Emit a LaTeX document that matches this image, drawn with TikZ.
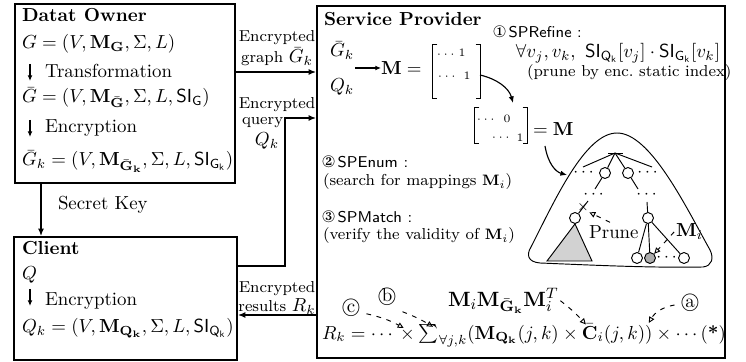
\documentclass[tikz,border=0pt]{standalone}
\usepackage{amsmath}
\usepackage{pifont}
\usetikzlibrary{arrows.meta,fit,calc}
\newcommand{\smf}{\fontsize{8.4}{10}\selectfont}
\newcommand{\hdf}{\fontsize{8.3}{10}\selectfont}
\newcommand{\mth}{\fontsize{10.2}{12}\selectfont}
\newcommand{\fmf}{\fontsize{9.8}{12}\selectfont}
\newcommand{\tnf}{\fontsize{6}{7}\selectfont}
\newcommand{\nmath}[1]{{\fontsize{10}{12}\selectfont$#1$}}
\newcommand{\cnum}[1]{{\fontsize{8.8}{10}\selectfont\ding{#1}}}
\tikzset{
  box/.style={draw, line width=0.9pt, inner sep=0pt},
  tx/.style={anchor=base west, inner sep=0pt, outer sep=0pt},
  lb/.style={anchor=base, inner sep=0pt, outer sep=0pt, font=\smf},
  ent/.style={inner sep=0pt, font=\tnf},
  dt/.style={inner sep=0pt, font=\small},
  arr/.style={line width=0.9pt, -{Latex[length=4pt,width=3.2pt]}},
  sarr/.style={line width=0.6pt, -{Latex[length=3pt,width=2.6pt]}},
  carr/.style={line width=0.6pt, -{Latex[length=3.5pt,width=2.8pt]}},
  darr/.style={line width=0.5pt, dash pattern=on 2.5pt off 3pt, -{Triangle[open,length=3.2pt,width=3pt]}},
  tn/.style={circle, draw, line width=0.5pt, minimum size=5.8pt, inner sep=0pt},
  tl/.style={line width=0.5pt},
  brk/.style={line width=0.6pt},
}
\begin{document}
\begin{tikzpicture}[x=0.53pt,y=-0.53pt]
\useasboundingbox (0,0) rectangle (746,362);
% boxes
\node[box, fit={(15,4) (235,183)}] (owner) {};
\node[box, fit={(14,237) (237,360)}] (client) {};
\node[box, fit={(317,6) (725,358)}] (sp) {};
% owner text
\node[tx, font=\bfseries] (ownt) at (22,22) {Datat Owner};
\node[tx, font=\mth] (g0) at (22,49) {$G=(V,\mathbf{M}_{\mathbf{G}},\Sigma,L)$};
\node[tx] (tr) at (45,78) {Transformation};
\node[tx, font=\mth] (g1) at (22,103) {$\bar{G}=(V,\mathbf{M}_{\bar{\mathbf{G}}},\Sigma,L,\mathsf{SI}_{\mathsf{G}})$};
\node[tx] (en1) at (45,133) {Encryption};
\node[tx, font=\mth] (g2) at (22,166) {$\bar{G}_k=(V,\mathbf{M}_{\bar{\mathbf{G}}_{\mathbf{k}}},\Sigma,L,\mathsf{SI}_{\mathsf{G}_{\mathsf{k}}})$};
\draw[sarr] (30,64) -- (30,81);
\draw[sarr] (30,120) -- (30,137);
% client text
\node[tx, font=\bfseries] (clt) at (22,255) {Client};
\node[tx, font=\mth] (q0) at (22,280) {$Q$};
\node[tx] (en2) at (45,305) {Encryption};
\node[tx, font=\mth] (q1) at (22,333) {$Q_k=(V,\mathbf{M}_{\mathbf{Q}_{\mathbf{k}}},\Sigma,L,\mathsf{SI}_{\mathsf{Q}_{\mathsf{k}}})$};
\draw[sarr] (30,289) -- (30,306);
% secret key
\coordinate (skx) at (41,0);
\draw[arr] (owner.south -| skx) -- (client.north -| skx);
\node[tx] (sk) at (58,210) {Secret Key};
% connectors between boxes
\coordinate (gy) at (0,72);
\coordinate (qy) at (0,118);
\coordinate (cy) at (0,266);
\coordinate (qx) at (285,0);
\coordinate (ry) at (0,315);
\draw[arr] (owner.east |- gy) -- (sp.west |- gy);
\draw[arr] (client.east |- cy) -| (qx |- qy) -- (sp.west |- qy);
\draw[arr] (sp.west |- ry) -- (client.east |- ry);
\node[lb] (l1a) at (277,42) {Encrypted};
\node[lb] (l1b) at (277,63) {graph \nmath{\bar{G}_k}};
\node[lb] (l2a) at (277,109) {Encrypted};
\node[lb, anchor=base west] (l2b) at (242,125) {query};
\node[lb] (l2c) at (267,146) {\nmath{Q_k}};
\node[lb] (l3a) at (277,293) {Encrypted};
\node[lb] (l3b) at (277,312) {results \nmath{R_k}};
% service provider
\node[tx, font=\bfseries] (spt) at (324,26) {Service Provider};
\node[tx] (sg) at (330,57) {$\bar{G}_k$};
\node[tx] (sq) at (330,92) {$Q_k$};
\coordinate (ma) at (355,68);
\node[tx] (meq) at (381,75) {$\mathbf{M}=$};
\draw[sarr] (ma) -- (meq.west |- ma);
\node[fit={(433,45) (480,98)}, inner sep=0pt] (mat1) {};
\draw[brk] ([xshift=2.5pt]mat1.north west) -- (mat1.north west) -- (mat1.south west) -- ([xshift=2.5pt]mat1.south west);
\draw[brk] ([xshift=-2.5pt]mat1.north east) -- (mat1.north east) -- (mat1.south east) -- ([xshift=-2.5pt]mat1.south east);
\node[ent] (e11) at (447,55) {$\cdots$};
\node[ent] (e12) at (462,53) {1};
\node[ent] (e21) at (448,77) {$\cdots$};
\node[ent] (e22) at (467,76) {1};
\node[fit={(475,108) (527,143)}, inner sep=0pt] (mat2) {};
\draw[brk] ([xshift=2.5pt]mat2.north west) -- (mat2.north west) -- (mat2.south west) -- ([xshift=2.5pt]mat2.south west);
\draw[brk] ([xshift=-2.5pt]mat2.north east) -- (mat2.north east) -- (mat2.south east) -- ([xshift=-2.5pt]mat2.south east);
\node[ent] (f11) at (487,120) {$\cdots$};
\node[ent] (f12) at (507,119) {0};
\node[ent] (f21) at (502,138) {$\cdots$};
\node[ent] (f22) at (520,138) {1};
\node[tx] (m2eq) at (533,136) {$=\mathbf{M}$};
\coordinate (k1) at (480,75);
\coordinate (k2) at (513,103);
\draw[carr] (k1) .. controls (497,79) and (509,88) .. (k2);
% steps
\node[tx, font=\hdf] (s1) at (493,38) {\cnum{172}\,\textsf{SPRefine :}};
\node[tx, anchor=base east, font=\fontsize{10.2}{12}\selectfont] (s1b) at (720,58) {$\forall v_j, v_k,\ \mathsf{SI}_{\mathsf{Q}_{\mathsf{k}}}[v_j]\cdot\mathsf{SI}_{\mathsf{G}_{\mathsf{k}}}[v_k]$};
\node[tx, font=\smf] (s1c) at (527,77) {(prune by enc.\ static index)};
\node[tx, font=\hdf] (s2) at (322,168) {\cnum{173}\,\textsf{SPEnum :}};
\node[tx, font=\smf] (s2b) at (323,186) {(search for mappings $\mathbf{M}_i$)};
\node[tx, font=\hdf] (s3) at (322,223) {\cnum{174}\,\textsf{SPMatch :}};
\node[tx, font=\smf] (s3b) at (323,240) {(verify the validity of $\mathbf{M}_i$)};
% tree region
\draw[tl] (540,263) .. controls (528,262) and (526,255) .. (531,247)
  .. controls (555,200) and (585,133) .. (617,133)
  .. controls (650,133) and (685,205) .. (710,250)
  .. controls (714,258) and (712,266) .. (703,267)
  .. controls (650,268) and (590,265) .. (540,263) -- cycle;
\coordinate (a1) at (545,146);
\coordinate (a2) at (567,175);
\draw[carr] (a1) .. controls (548,164) and (556,172) .. (a2);
\coordinate (root) at (615,153);
\draw[tl] (608,153) -- (623,153);
\coordinate (tl1) at (583,167);
\coordinate (tr1) at (652,167);
\node[tn] (c1) at (605,173) {};
\node[tn] (c2) at (628,173) {};
\draw[tl] (root) -- (tl1);
\draw[tl] (root) -- (c1);
\draw[tl] (root) -- (c2);
\draw[tl] (root) -- (tr1);
\node[dt] (d1) at (585,173) {$\cdots$};
\node[dt] (d2) at (649,173) {$\cdots$};
\coordinate (l2) at (595,189);
\coordinate (r2) at (638,189);
\draw[tl] (c1) -- (l2);
\draw[tl] (c2) -- (r2);
\node[dt] (d3) at (595,195) {$\cdots$};
\node[dt] (d4) at (648,195) {$\cdots$};
\coordinate (l3) at (588,201);
\node[tn] (lc) at (575,218) {};
\draw[tl] (l3) -- (lc);
\node[inner sep=0pt, font=\scriptsize] (xm) at (583,207) {$\times$};
\coordinate (r3) at (647,202);
\node[tn] (rc) at (648,218) {};
\draw[tl] (r3) -- (rc);
\draw[tl, fill=gray!35] (lc.south) -- (547,261) -- (592,261) -- cycle;
\node[tn] (b1) at (637,258) {};
\node[tn, fill=gray!65] (b2) at (650,258) {};
\node[tn] (b3) at (684,258) {};
\draw[tl] (rc) -- (b1);
\draw[tl] (rc) -- (b2);
\draw[tl] (rc) -- (b3);
\node[dt] (d5) at (668,258) {$\cdots$};
\node[tx] (pr) at (589,239) {Prune};
\draw[darr] ([xshift=-2pt,yshift=2pt]pr.north) -- (xm.south east);
\node[tx] (mi) at (676,237) {$\mathbf{M}_i$};
\draw[darr] ([xshift=-1pt]mi.west) -- (b2.north east);
% bottom formula
\node[tx, font=\fontsize{10.8}{13}\selectfont] (mm) at (448,306) {$\mathbf{M}_i\mathbf{M}_{\bar{\mathbf{G}}_{\mathbf{k}}}\mathbf{M}_i^T$};
\node[tx, font=\fmf] (f1) at (322,339) {$R_k=\cdots$};
\node[tx, font=\fmf] (f2) at (f1.base east) {${}\times{}$};
\node[tx, font=\fmf] (f3) at (f2.base east) {$\sum_{\forall j,k}(\mathbf{M}_{\mathbf{Q}_{\mathbf{k}}}(j,k)\times{}$};
\node[tx, font=\fmf] (f4) at (f3.base east) {$\bar{\mathbf{C}}_i(j,k)$};
\node[tx, font=\fmf] (f5) at (f4.base east) {$)$};
\node[tx, font=\fmf] (f6) at (f5.base east) {${}\times\cdots\,$(\textbf{*})};
\node[inner sep=0pt] (cc) at (351,310) {\textcircled{c}};
\node[inner sep=0pt] (cb) at (387,297) {\textcircled{b}};
\node[inner sep=0pt] (ca) at (690,305) {\textcircled{a}};
\draw[darr] ([xshift=3pt,yshift=-2pt]cc.east) to[bend left=8] ([xshift=-2pt]f2.north);
\draw[darr] ([xshift=3pt,yshift=-3pt]cb.south east) to[bend left=5] ($(f3.north west)+(14,2)$);
\draw[darr] ([xshift=1pt]mm.east) to[bend left=5] ($(f4.north west)+(4,1)$);
\draw[darr] ([xshift=-3pt]ca.west) to[out=190,in=60] ([yshift=1pt]f5.north);
\end{tikzpicture}
\end{document}
